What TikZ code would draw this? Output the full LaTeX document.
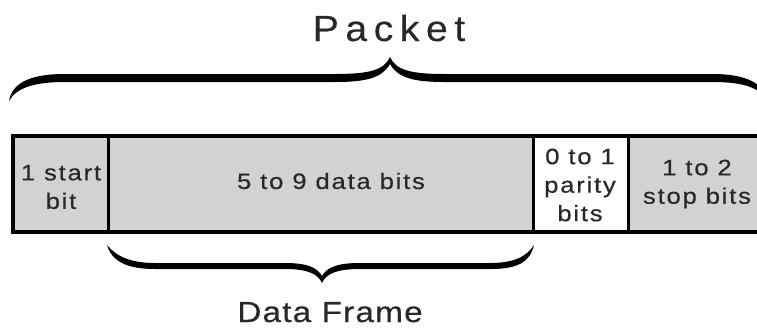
\documentclass[tikz,border=0pt]{standalone}
\usepackage{fontspec}
\setmainfont{Liberation Sans}
\newfontfamily\boxfont[LetterSpace=8,FakeStretch=1.15,FakeBold=0.4]{Liberation Sans}
\newfontfamily\titlefont[LetterSpace=18,FakeStretch=1.08,FakeBold=0.2]{Liberation Sans}
\newfontfamily\framefont[LetterSpace=4,FakeStretch=1.15,FakeBold=0.4]{Liberation Sans}
\definecolor{cellgray}{RGB}{210,210,210}
\definecolor{inkgray}{RGB}{40,40,40}
\tikzset{
  cell/.style={draw=black, line width=2.5bp, fill=cellgray, anchor=north west, inner sep=0pt, minimum height=95bp},
  celltext/.style={text=inkgray, align=center, inner sep=0pt, font=\boxfont\fontsize{22.3bp}{28.5bp}\selectfont},
  bigtext/.style={text=inkgray, inner sep=0pt, anchor=base},
  bracefill/.style={fill=black}
}
\begin{document}
\begin{tikzpicture}[x=1bp,y=-1bp]
\useasboundingbox (0,0) rectangle (757,330);
% title
\node[bigtext, font=\titlefont\fontsize{36.3bp}{40bp}\selectfont] (packet) at (389,41) {Packet};
% top brace
\fill[bracefill] (9,101) .. controls (12,84) and (28,74) .. (65,74) -- (335,74)
  .. controls (370,74) and (384,70) .. (390,57)
  .. controls (396,70) and (410,74) .. (445,74) -- (712,74)
  .. controls (748,74) and (764,84) .. (767,101)
  .. controls (760,88) and (745,82) .. (712,82) -- (445,82)
  .. controls (414,82) and (398,78) .. (390,64)
  .. controls (382,78) and (366,82) .. (335,82) -- (65,82)
  .. controls (34,82) and (16,88) .. (9,101) -- cycle;
% cells
\node[cell, minimum width=95bp] (start) at (12,135) {};
\node[cell, minimum width=425bp] (data) at (107,135) {};
\node[cell, minimum width=95bp, fill=white] (parity) at (532,135) {};
\node[cell, minimum width=140bp] (stop) at (627,135) {};
\draw[line width=3bp] (start.north west) rectangle (stop.south east);
% cell texts
\node[celltext] (tstart) at (61,187) {1 start\\bit};
\node[celltext] (tdata) at (331,181) {5 to 9 data bits};
\node[celltext] (tparity) at (580,185) {0 to 1\\parity\\bits};
\node[celltext] (tstop) at (697,184) {1 to 2\\stop bits};
% lower brace
\fill[bracefill] (107,245) .. controls (112,262) and (128,269) .. (155,269) -- (285,269)
  .. controls (308,269) and (318,274) .. (322,283)
  .. controls (326,274) and (336,269) .. (360,269) -- (490,269)
  .. controls (518,269) and (530,262) .. (534,245)
  .. controls (527,256) and (515,263) .. (490,263) -- (360,263)
  .. controls (338,263) and (327,267) .. (322,276)
  .. controls (317,267) and (306,263) .. (285,263) -- (155,263)
  .. controls (130,263) and (116,256) .. (107,245) -- cycle;
\node[bigtext, font=\framefont\fontsize{29bp}{32bp}\selectfont] (frame) at (330,322) {Data Frame};
\end{tikzpicture}
\end{document}
